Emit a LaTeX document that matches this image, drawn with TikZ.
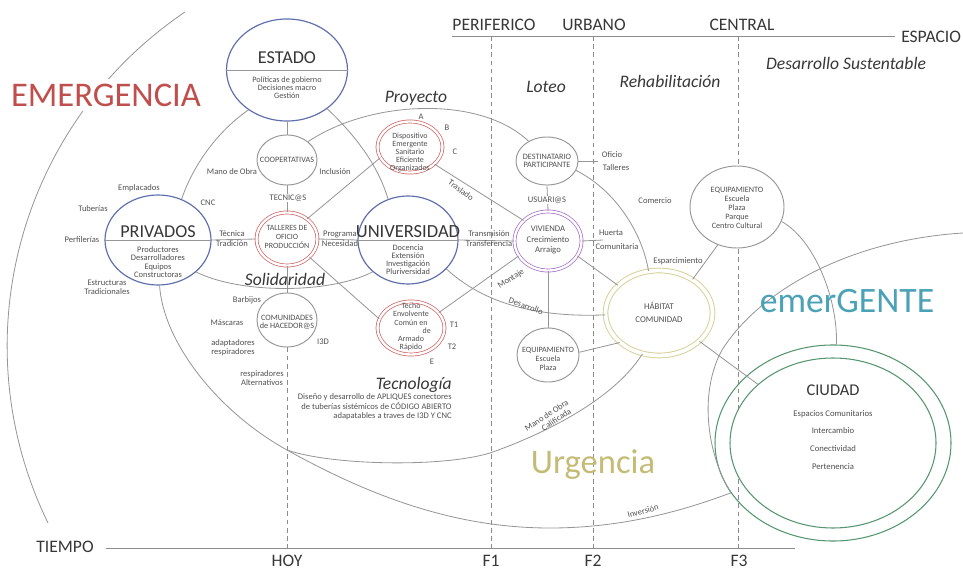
\documentclass[tikz,border=0pt]{standalone}
\usepackage{fontspec}
\setmainfont{Carlito}
\usepackage{tikz}
\usetikzlibrary{shapes.geometric}
\usetikzlibrary{positioning}

\definecolor{azul}{RGB}{95,110,172}
\definecolor{rojo}{RGB}{208,96,96}
\definecolor{lila}{RGB}{160,105,200}
\definecolor{arena}{RGB}{214,208,150}
\definecolor{verde}{RGB}{85,150,112}
\definecolor{gris_lin}{RGB}{150,150,150}
\definecolor{gris_eje}{RGB}{140,140,140}
\definecolor{texto}{RGB}{80,80,80}
\definecolor{texto_osc}{RGB}{55,55,55}
\definecolor{emer_rojo}{RGB}{192,78,76}
\definecolor{emer_azul}{RGB}{75,162,182}
\definecolor{urg}{RGB}{196,188,118}

\begin{document}
\begin{tikzpicture}[x=0.03cm,y=-0.03cm]

    \tikzstyle{eje}=[draw=gris_eje,line width=0.8pt]
    \tikzstyle{corte}=[draw=gris_eje,line width=0.6pt,dash pattern=on 4pt off 3pt]
    \tikzstyle{enlace}=[draw=gris_lin,line width=0.7pt]
    \tikzstyle{actor}=[ellipse,draw=azul,line width=1pt,fill=white,inner sep=0pt]
    \tikzstyle{nodo}=[ellipse,draw=gris_lin,line width=0.8pt,fill=white,inner sep=0pt]
    \tikzstyle{doble}=[ellipse,line width=0.6pt,double=white,double distance=2pt,fill=white,inner sep=0pt]
    \tikzstyle{lbl}=[font=\fontsize{7.3}{7.6}\selectfont,text=texto,inner sep=1pt,align=center]
    \tikzstyle{dentro}=[font=\fontsize{7}{6.8}\selectfont,text=texto,inner sep=0pt,align=center]
    \tikzstyle{titulo}=[font=\fontsize{15.5}{17}\selectfont,text=texto_osc,inner sep=0pt]
    \tikzstyle{eje_lbl}=[font=\fontsize{15}{17}\selectfont,text=texto_osc,inner sep=0pt]
    \tikzstyle{fase}=[font=\fontsize{15}{17}\selectfont\itshape,text=texto_osc,inner sep=0pt]

    \useasboundingbox (0,0) rectangle (963,572);

% ejes espacio / tiempo
\coordinate (esp_start) at (452,36);
\coordinate (esp_end) at (895,36);
\coordinate (tiempo_start) at (106,548);
\coordinate (tiempo_end) at (795,548);
\draw[eje] (esp_start) -- (esp_end);
\draw[eje] (tiempo_start) -- (tiempo_end);

\coordinate (F1_top) at (491,36);   \coordinate (F1_bot) at (491,548);
\coordinate (F2_top) at (593,36);   \coordinate (F2_bot) at (593,548);
\coordinate (F3_top) at (738,36);   \coordinate (F3_bot) at (738,548);
\coordinate (HOY_bot) at (287,548);
\draw[corte] (F1_top) -- (F1_bot);
\draw[corte] (F2_top) -- (F2_bot);
\draw[corte] (F3_top) -- (F3_bot);

\node (espacio) [eje_lbl,anchor=west] at (901,37) {ESPACIO};
\node (periferico) [eje_lbl] at (494,25) {PERIFERICO};
\node (urbano) [eje_lbl] at (594,25) {URBANO};
\node (central) [eje_lbl] at (742,25) {CENTRAL};
\node (tiempo) [eje_lbl] at (65,547) {TIEMPO};
\node (hoy) [eje_lbl] at (287,561) {HOY};
\node (F_1) [eje_lbl] at (491,561) {F1};
\node (F_2) [eje_lbl] at (593,561) {F2};
\node (F_3) [eje_lbl] at (739,561) {F3};

% arcos grandes
\coordinate (arco_ini) at (185,12);
\coordinate (arco_fin) at (48,523);
\draw[enlace] (arco_ini) .. controls (18,125) and (-40,342) .. (arco_fin);
\node (emergencia) [fill=white,inner sep=4pt,text=emer_rojo,font=\fontsize{29.5}{31}\selectfont] at (106,95) {EMERGENCIA};

\coordinate (emer_ini) at (963,233);

% actores
\node (estado) [actor,minimum width=3.63cm,minimum height=3.06cm] at (287,70) {};
\node (privados) [actor,minimum width=3.18cm,minimum height=2.7cm] at (158,240) {};
\node (universidad) [actor,minimum width=3.0cm,minimum height=2.64cm] at (408,240) {};

\node (coop) [nodo,minimum width=1.8cm,minimum height=1.5cm] at (287,160) {};
\node (comunidades) [nodo,minimum width=1.8cm,minimum height=1.62cm] at (287,320) {};
\node (destinatario) [nodo,minimum width=1.86cm,minimum height=1.44cm] at (547,161) {};
\node (equip_b) [nodo,minimum width=1.86cm,minimum height=1.62cm] at (548,355) {};
\node (equip_c) [nodo,minimum width=2.82cm,minimum height=2.46cm] at (737,207) {};

\node (talleres) [doble,draw=rojo,minimum width=1.83cm,minimum height=1.59cm] at (287,239) {};
\node (dispositivo) [doble,draw=rojo,minimum width=1.95cm,minimum height=1.53cm] at (410,147) {};
\node (techo) [doble,draw=rojo,minimum width=2.01cm,minimum height=1.59cm] at (411,328) {};
\node (vivienda) [doble,draw=lila,minimum width=2.01cm,minimum height=1.77cm] at (548,241) {};
\node (habitat) [doble,draw=arena,line width=0.8pt,double distance=3.2pt,minimum width=3.21cm,minimum height=2.55cm] at (659,313) {};

\node (ciudad) [ellipse,draw=verde,line width=0.9pt,inner sep=0pt,minimum width=7.08cm,minimum height=5.88cm] at (833,443) {};
\node (ciudad_in) [ellipse,draw=verde,line width=0.9pt,fill=white,inner sep=0pt,minimum width=6.18cm,minimum height=5.1cm] at (833,443) {};

% lineas rectas
\draw[enlace] (estado.west) -- (estado.east);
\draw[enlace] (privados.west) -- (privados.east);
\draw[enlace] (universidad.west) -- (universidad.east);
\draw[enlace] (estado.south) -- (coop.north);
\draw[enlace] (coop.south) -- (talleres.north);
\draw[enlace] (talleres.south) -- (comunidades.north);
\draw[corte] (comunidades.south) -- (HOY_bot);
\draw[enlace] (privados.east) -- (talleres.west);
\draw[enlace] (talleres.east) -- (universidad.west);
\draw[enlace] (universidad.east) -- (vivienda.west);
\coordinate (huerta_end) at (603,240);
\draw[enlace] (vivienda.east) -- (huerta_end);
\coordinate (oficio_end) at (598,161);
\draw[enlace] (destinatario.east) -- (oficio_end);
\draw[enlace] (destinatario.south) -- (vivienda.north);
\draw[enlace] (vivienda.south) -- (equip_b.north);
\draw[enlace] (talleres.45) -- (dispositivo.200);
\draw[enlace] (talleres.321) -- (techo.164);
\draw[enlace] (techo.29) -- (vivienda.207);
\draw[enlace] (dispositivo.325) -- (vivienda.140);
\draw[enlace] (vivienda.333) -- (habitat.146);
\draw[enlace] (equip_b.5) -- (habitat.217);
\draw[enlace] (habitat.45) -- (equip_c.243);
\draw[enlace] (habitat.325) -- (ciudad_in.142);

% lineas curvas
\coordinate (bif) at (287,450);
\coordinate (fondo) at (550,528);
\coordinate (calif) at (490,453);
\draw[enlace] (estado.226) .. controls (222,128) and (195,160) .. (privados.60);
\draw[enlace] (privados.272) .. controls (163,340) and (215,410) .. (bif) .. controls (377,500) and (460,528) .. (fondo) .. controls (620,528) and (680,512) .. (ciudad.206);
\draw[enlace] (bif) .. controls (330,465) and (440,468) .. (calif) .. controls (530,439) and (610,405) .. (habitat.248);
\draw[enlace] (privados.320) .. controls (240,294) and (330,294) .. (universidad.222);
\draw[enlace] (coop.41) .. controls (370,100) and (480,95) .. (destinatario.133);
\draw[enlace] (estado.316) .. controls (355,135) and (378,165) .. (universidad.116);
\draw[enlace] (universidad.323) .. controls (480,300) and (530,318) .. (habitat.182);
\draw[enlace] (destinatario.342) .. controls (615,190) and (642,232) .. (habitat.104);
\draw[enlace] (equip_c.342) .. controls (815,240) and (838,300) .. (ciudad.88);
\draw[enlace] (emer_ini) .. controls (850,240) and (760,290) .. (722,350) .. controls (700,390) and (705,450) .. (ciudad.206);

% textos dentro
\node (estado_t) [titulo] at (287,58) {ESTADO};
\node (estado_s) [dentro] at (287,88) {Políticas de gobierno\\Decisiones macro\\Gestión};
\node (privados_t) [titulo] at (158,232) {PRIVADOS};
\node (privados_s) [dentro,font=\fontsize{7.2}{7.1}\selectfont] at (158,262) {Productores\\Desarrolladores\\Equipos\\Constructoras};
\node (universidad_t) [titulo,font=\fontsize{15.8}{18}\selectfont] at (408,232) {UNIVERSIDAD};
\node (universidad_s) [dentro,font=\fontsize{7.1}{6.9}\selectfont] at (408,260) {Docencia\\Extensión\\Investigación\\Pluriversidad};
\node (coop_t) [dentro] at (287,160) {COOPERTATIVAS};
\node (talleres_t) [dentro,font=\fontsize{6.8}{7.6}\selectfont] at (287,237) {TALLERES DE\\OFICIO\\PRODUCCIÓN};
\node (dispositivo_t) [dentro,font=\fontsize{6.8}{6.8}\selectfont] at (410,152) {Dispositivo\\Emergente\\Sanitario\\Eficiente\\Organizados};
\node (techo_t) [dentro,font=\fontsize{6.8}{7}\selectfont] at (411,327) {Techo\\Envolvente\\Común en\\\hspace*{27pt}de\\Armado\\Rápido};
\node (comunidades_t) [dentro] at (287,322) {COMUNIDADES\\de HACEDOR@S};
\node (destinatario_t) [dentro] at (547,161) {DESTINATARIO\\PARTICIPANTE};
\node (vivienda_t) [dentro,font=\fontsize{7.4}{9}\selectfont] at (548,240) {VIVIENDA\\Crecimiento\\Arraigo};
\node (equip_b_t) [dentro,font=\fontsize{6.9}{7.6}\selectfont] at (548,359) {EQUIPAMIENTO\\Escuela\\Plaza};
\node (equip_c_t) [dentro,font=\fontsize{7}{7.6}\selectfont] at (737,208) {EQUIPAMIENTO\\Escuela\\Plaza\\Parque\\Centro Cultural};
\node (habitat_t) [dentro,font=\fontsize{7.5}{11}\selectfont] at (659,312) {HÁBITAT\\COMUNIDAD};
\node (ciudad_t) [titulo,font=\fontsize{14}{16}\selectfont] at (833,390) {CIUDAD};
\node (ciudad_s) [dentro,font=\fontsize{7.4}{15.3}\selectfont] at (833,440) {Espacios Comunitarios\\Intercambio\\Conectividad\\Pertenencia};

% etiquetas
\node (lbl_emplacados) [lbl] at (139,188) {Emplacados};
\node (lbl_tuberias) [lbl] at (93,209) {Tuberías};
\node (lbl_perfilerias) [lbl] at (82,240) {Perfilerías};
\node (lbl_estructuras) [lbl] at (107,287) {Estructuras\\Tradicionales};
\node (lbl_cnc) [lbl] at (208,203) {CNC};
\node (lbl_mano) [lbl] at (232,172) {Mano de Obra};
\node (lbl_inclusion) [lbl] at (335,172) {Inclusión};
\node (lbl_tecnicos) [lbl,fill=white] at (288,198) {TECNIC@S};
\node (lbl_tecnica) [lbl] at (232,234) {Técnica};
\node (lbl_tradicion) [lbl,below=0.5pt of lbl_tecnica] {Tradición};
\node (lbl_programa) [lbl] at (340,234) {Programa};
\node (lbl_necesidad) [lbl,below=0.5pt of lbl_programa] {Necesidad};
\node (lbl_barbijos) [lbl] at (247,300) {Barbijos};
\node (lbl_mascaras) [lbl] at (227,323) {Máscaras};
\node (lbl_adaptadores) [lbl] at (233,348) {adaptadores\\respiradores};
\node (lbl_i3d) [lbl] at (323,342) {I3D};
\node (lbl_alternativos) [lbl] at (262,378) {respiradores\\Alternativos};
\node (lbl_A) [lbl] at (421,117) {A};
\node (lbl_B) [lbl] at (447,128) {B};
\node (lbl_C) [lbl] at (455,152) {C};
\node (lbl_T1) [lbl] at (454,325) {T1};
\node (lbl_T2) [lbl] at (452,347) {T2};
\node (lbl_E) [lbl] at (432,362) {E};
\node (lbl_traslado) [lbl,rotate=-36] at (461,190) {Traslado};
\node (lbl_transmision) [lbl] at (489,234) {Transmisión};
\node (lbl_transferencia) [lbl,below=0.5pt of lbl_transmision] {Transferencia};
\node (lbl_montaje) [lbl,rotate=33] at (511,279) {Montaje};
\node (lbl_desarrollo) [lbl,rotate=-20] at (526,306) {Desarrollo};
\node (lbl_usuarios) [lbl,fill=white] at (547,200) {USUARI@S};
\node (lbl_oficio) [lbl] at (612,155) {Oficio};
\node (lbl_talleres) [lbl] at (616,168) {Talleres};
\node (lbl_comercio) [lbl] at (655,201) {Comercio};
\node (lbl_huerta) [lbl] at (611,233) {Huerta};
\node (lbl_comunitaria) [lbl] at (617,247) {Comunitaria};
\node (lbl_esparcimiento) [lbl] at (678,261) {Esparcimiento};
\node (lbl_calificada) [lbl,rotate=33,inner sep=0.5pt] at (549,419) {Mano de Obra\\\hspace*{10pt}Calificada};
\node (lbl_inversion) [lbl,rotate=15] at (643,511) {Inversión};

% fases
\node (proyecto) [fase] at (416,98) {Proyecto};
\node (loteo) [fase] at (546,87) {Loteo};
\node (rehab) [fase] at (670,81) {Rehabilitación};
\node (sustentable) [fase] at (846,63) {Desarrollo Sustentable};
\node (solidaridad) [fase] at (285,279) {Solidaridad};
\node (tecnologia) [fase,anchor=east] at (452,385) {Tecnología};
\node (tec_txt) [lbl,align=right,anchor=east,font=\fontsize{7.3}{8}\selectfont] at (453,407) {Diseño y desarrollo de APLIQUES conectores\\de tuberías sistémicos de CÓDIGO ABIERTO\\adapatables a traves de I3D Y CNC};

\node (emergente) [text=emer_azul,inner sep=0pt,font=\fontsize{30.5}{32}\selectfont] at (847,301) {emerGENTE};
\node (urgencia) [text=urg,inner sep=0pt,font=\fontsize{29.5}{31}\selectfont] at (593,465) {Urgencia};

\end{tikzpicture}
\end{document}
